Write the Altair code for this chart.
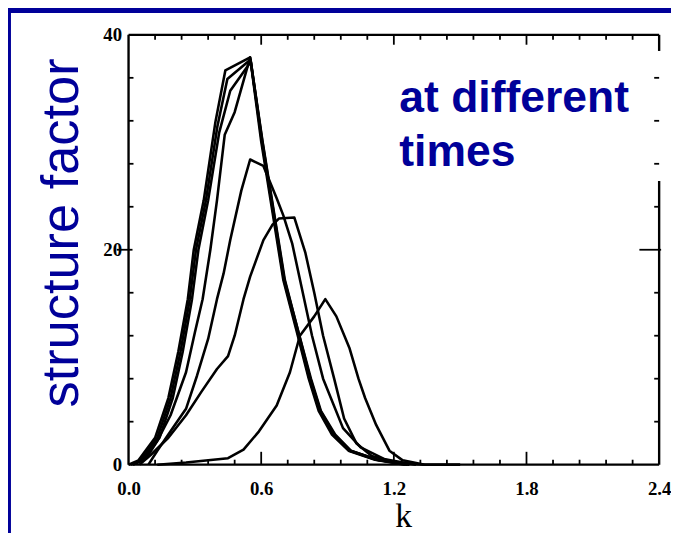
import altair as alt
import pandas as pd

# ---------------- data ----------------
A_K = [0.13, 0.26, 0.45, 0.52, 0.59, 0.67, 0.73, 0.775, 0.84, 0.89, 0.94, 1.00, 1.04, 1.07, 1.12, 1.18, 1.24, 1.34, 1.50]
A_S = [0.0, 0.2, 0.6, 1.4, 3.1, 5.5, 8.6, 12.0, 13.8, 15.4, 13.8, 10.8, 8.0, 6.2, 3.7, 1.3, 0.4, 0.0, 0.0]

B_K = [0.05, 0.10, 0.18, 0.26, 0.33, 0.40, 0.45, 0.48, 0.52, 0.55, 0.61, 0.65, 0.68, 0.75, 0.80, 0.84, 0.88, 0.93, 0.975, 1.03, 1.10, 1.21, 1.34]
B_S = [0.0, 0.9, 2.5, 4.6, 6.8, 8.9, 10.1, 12.0, 15.4, 17.5, 20.9, 22.3, 22.9, 23.0, 19.7, 16.0, 12.0, 8.0, 4.3, 2.0, 0.8, 0.2, 0.0]

C_K = [0.09, 0.13, 0.19, 0.26, 0.31, 0.36, 0.40, 0.43, 0.46, 0.51, 0.55, 0.61, 0.67, 0.70, 0.74, 0.785, 0.83, 0.88, 0.97, 1.05, 1.16, 1.30]
C_S = [0.0, 1.3, 3.1, 5.2, 8.3, 11.7, 15.4, 17.8, 20.9, 25.5, 28.4, 27.8, 24.8, 23.2, 20.6, 16.3, 12.0, 8.0, 3.4, 1.6, 0.5, 0.0]

D_K = [0.02, 0.08, 0.13, 0.19, 0.26, 0.30, 0.335, 0.37, 0.40, 0.435, 0.48, 0.55, 0.605, 0.705, 0.765, 0.825, 0.87, 0.935, 1.005, 1.125, 1.27]
D_S = [0.0, 0.6, 2.2, 4.6, 8.6, 12.3, 15.4, 20.0, 24.6, 30.7, 32.8, 37.9, 30.1, 17.2, 12.6, 8.0, 5.0, 2.8, 1.3, 0.45, 0.0]

E1_K = [0.00, 0.045, 0.12, 0.18, 0.225, 0.268, 0.295, 0.34, 0.393, 0.438, 0.55, 0.60, 0.70, 0.758, 0.815, 0.86, 0.92, 0.995, 1.115, 1.25]
E1_S = [0.0, 0.4, 2.5, 6.2, 10.5, 15.4, 20.0, 24.6, 31.9, 36.7, 37.9, 30.1, 17.2, 12.6, 8.0, 5.0, 2.8, 1.3, 0.45, 0.0]

E2_K = [0.01, 0.055, 0.13, 0.19, 0.235, 0.277, 0.305, 0.35, 0.402, 0.447, 0.552, 0.603, 0.703, 0.761, 0.818, 0.864, 0.925, 1.0, 1.12, 1.26]
E2_S = [0.0, 0.4, 2.5, 6.2, 10.5, 15.4, 20.0, 24.6, 31.5, 35.9, 37.7, 30.1, 17.2, 12.6, 8.0, 5.0, 2.8, 1.3, 0.45, 0.0]

E3_K = [0.02, 0.065, 0.14, 0.20, 0.245, 0.287, 0.316, 0.36, 0.41, 0.46, 0.553, 0.606, 0.707, 0.765, 0.822, 0.868, 0.93, 1.005, 1.125, 1.27]
E3_S = [0.0, 0.4, 2.5, 6.2, 10.5, 15.4, 20.0, 24.6, 30.9, 34.8, 37.5, 30.1, 17.2, 12.6, 8.0, 5.0, 2.8, 1.3, 0.45, 0.0]

X_LABELS = [0.0, 0.6, 1.2, 1.8, 2.4]
Y_LABELS = [0, 20, 40]
K_MINOR = [0.12, 0.24, 0.36, 0.48, 0.72, 0.84, 0.96, 1.08, 1.32, 1.44, 1.56, 1.68, 1.92, 2.04, 2.16, 2.28]
K_MAJOR = [0.6, 1.2, 1.8]
S_MINOR = [4, 8, 12, 16, 24, 28, 32, 36]
S_MAJOR = [20]

# frame segments (k1, S1, k2, S2); right side broken by the text box
FRAME_K1 = [0.0, 0.0, 0.0, 2.4, 2.4]
FRAME_S1 = [0.0, 0.0, 40.0, 0.0, 38.5]
FRAME_K2 = [0.0, 2.4, 2.4, 2.4, 2.4]
FRAME_S2 = [40.0, 0.0, 40.0, 26.4, 40.0]

# ---------------- build ----------------
curves = [("A", A_K, A_S), ("B", B_K, B_S), ("C", C_K, C_S), ("D", D_K, D_S),
          ("E1", E1_K, E1_S), ("E2", E2_K, E2_S), ("E3", E3_K, E3_S)]
rows = []
for name, ks, ss in curves:
    for i, (k, s) in enumerate(zip(ks, ss)):
        rows.append({"curve": name, "k": k, "S": s, "order": i})
df = pd.DataFrame(rows)

W, H = 537, 435
BLUE = "#000099"
SERIF = "Liberation Serif"
SANS = "Liberation Sans"

xs = alt.Scale(domain=[0, 2.4], nice=False, zero=False)
ys = alt.Scale(domain=[0, 40], nice=False, zero=False)

one = pd.DataFrame({"a": [0]})

x_axis = alt.Axis(
    values=X_LABELS, format=".1f", ticks=False, domain=False, grid=False, zindex=2,
    labelFont=SERIF, labelFontWeight="bold", labelFontSize=19, labelColor="black",
    labelPadding=15, labelFlush=False,
    title="k", titleFont=SERIF, titleFontSize=34, titleFontWeight="normal",
    titleColor="black", titleX=278, titleY=63, titleBaseline="alphabetic",
)
y_axis = alt.Axis(
    values=Y_LABELS, ticks=False, domain=False, grid=False, zindex=2,
    labelFont=SERIF, labelFontWeight="bold", labelFontSize=19, labelColor="black",
    labelPadding=7, labelFlush=False,
    title="structure factor", titleFont=SANS, titleFontSize=53, titleFontWeight="normal",
    titleColor=BLUE, titleAngle=270, titleX=-52, titleY=200, titleBaseline="alphabetic",
    titleAlign="center",
)

bg = alt.Chart(one).mark_rect(color="white").encode(
    x=alt.value(-119), x2=alt.value(560), y=alt.value(-22), y2=alt.value(530)
)

lines = alt.Chart(df).mark_line(color="black", strokeWidth=2.6, strokeJoin="round").encode(
    x=alt.X("k:Q", scale=xs, axis=x_axis),
    y=alt.Y("S:Q", scale=ys, axis=y_axis),
    detail="curve:N",
    order="order:Q",
)

frame_df = pd.DataFrame({"k1": FRAME_K1, "s1": FRAME_S1, "k2": FRAME_K2, "s2": FRAME_S2})
frame = alt.Chart(frame_df).mark_rule(color="black", strokeWidth=2.4).encode(
    x=alt.X("k1:Q", scale=xs, axis=x_axis), x2="k2:Q",
    y=alt.Y("s1:Q", scale=ys, axis=y_axis), y2="s2:Q",
)

kmin = pd.DataFrame({"k": K_MINOR})
kmaj = pd.DataFrame({"k": K_MAJOR})
smin = pd.DataFrame({"s": S_MINOR})
smaj = pd.DataFrame({"s": S_MAJOR})

def xtick(data, y1, y2):
    return alt.Chart(data).mark_rule(color="black", strokeWidth=1.8).encode(
        x=alt.X("k:Q", scale=xs, axis=x_axis), y=alt.value(y1), y2=alt.value(y2))

def ytick(data, x1, x2):
    return alt.Chart(data).mark_rule(color="black", strokeWidth=1.8).encode(
        y=alt.Y("s:Q", scale=ys, axis=y_axis), x=alt.value(x1), x2=alt.value(x2))

ticks = [
    xtick(kmin, H, H - 5), xtick(kmaj, H, H - 13),
    xtick(kmin, 0, 5), xtick(kmaj, 0, 10),
    ytick(smin, 0, 5), ytick(smaj, -12, 4),
    ytick(smin, W - 5, W), ytick(smaj, W - 20, W + 2),
]

txt1 = alt.Chart(one).mark_text(
    text="at different", font=SANS, fontSize=45, fontWeight="bold", color=BLUE,
    align="left", baseline="alphabetic"
).encode(x=alt.value(274), y=alt.value(78))
txt2 = alt.Chart(one).mark_text(
    text="times", font=SANS, fontSize=45, fontWeight="bold", color=BLUE,
    align="left", baseline="alphabetic"
).encode(x=alt.value(274), y=alt.value(133))

chart = alt.layer(bg, lines, frame, *ticks, txt1, txt2).properties(
    width=W, height=H,
    autosize=alt.AutoSizeParams(type="none"),
    padding={"left": 122, "top": 24, "right": 12, "bottom": 66},
    background=BLUE,
).configure_view(stroke=None)

chart.save("out.html", embed_options={"renderer": "svg", "actions": False})
